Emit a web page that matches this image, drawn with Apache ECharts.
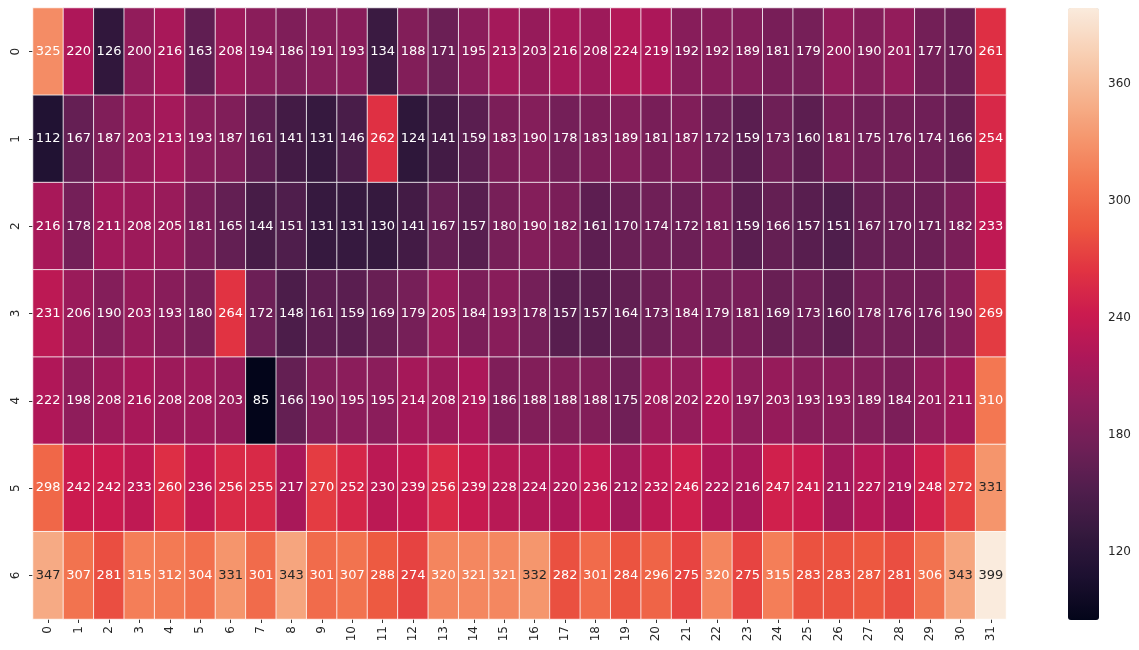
<!DOCTYPE html>
<html>
<head>
<meta charset="utf-8">
<style>
  html, body { margin: 0; padding: 0; background: #fff; }
  #chart { width: 1139px; height: 650px; }
</style>
<script src="https://cdn.jsdelivr.net/npm/echarts@6/dist/echarts.min.js"></script>
</head>
<body>
<div id="chart"></div>
<script>
// Row and column labels
const rowLabels = ['0', '1', '2', '3', '4', '5', '6'];
const colLabels = Array.from({ length: 32 }, (_, i) => String(i));

// Cell values, one array per row
const row0 = [325,220,126,200,216,163,208,194,186,191,193,134,188,171,195,213,203,216,208,224,219,192,192,189,181,179,200,190,201,177,170,261];
const row1 = [112,167,187,203,213,193,187,161,141,131,146,262,124,141,159,183,190,178,183,189,181,187,172,159,173,160,181,175,176,174,166,254];
const row2 = [216,178,211,208,205,181,165,144,151,131,131,130,141,167,157,180,190,182,161,170,174,172,181,159,166,157,151,167,170,171,182,233];
const row3 = [231,206,190,203,193,180,264,172,148,161,159,169,179,205,184,193,178,157,157,164,173,184,179,181,169,173,160,178,176,176,190,269];
const row4 = [222,198,208,216,208,208,203,85,166,190,195,195,214,208,219,186,188,188,188,175,208,202,220,197,203,193,193,189,184,201,211,310];
const row5 = [298,242,242,233,260,236,256,255,217,270,252,230,239,256,239,228,224,220,236,212,232,246,222,216,247,241,211,227,219,248,272,331];
const row6 = [347,307,281,315,312,304,331,301,343,301,307,288,274,320,321,321,332,282,301,284,296,275,320,275,315,283,283,287,281,306,343,399];
const rows = [row0, row1, row2, row3, row4, row5, row6];

// Colour bar ticks
const barTicks = [120, 180, 240, 300, 360];

const all = rows.flat();
const vMin = Math.min(...all);
const vMax = Math.max(...all);

// "rocket" palette, evenly spaced stops
const rocket = [
  '#03051a', '#1c1030', '#35193e', '#511e4d', '#701f57',
  '#8e1d5b', '#ad1759', '#cb1b4f', '#e13342', '#ed5840',
  '#f37651', '#f5966d', '#f6b48f', '#f8d0b5', '#faebdd'
];

// light cells get dark annotation text
const darkTextFrom = 328;

const data = [];
rows.forEach((r, y) => r.forEach((v, x) => {
  data.push({
    value: [x, y, v],
    label: { color: v >= darkTextFrom ? '#262626' : '#ffffff' }
  });
}));

const FONT = 'DejaVu Sans';
const chart = echarts.init(document.getElementById('chart'), null, { renderer: 'canvas' });

chart.setOption({
  animation: false,
  backgroundColor: '#ffffff',
  grid: [
    { left: 33, right: 133, top: 8, bottom: 31 },
    { left: 1068, width: 31, top: 8, bottom: 30 }
  ],
  xAxis: [
    {
      type: 'category', gridIndex: 0, data: colLabels, position: 'bottom',
      axisLine: { show: false },
      axisTick: { show: true, alignWithLabel: true, length: 4, lineStyle: { color: '#333' } },
      axisLabel: { rotate: 90, fontFamily: FONT, fontSize: 12, color: '#262626', margin: 7 },
      splitLine: { show: false }
    },
    {
      type: 'value', gridIndex: 1, show: false, min: 0, max: 1
    }
  ],
  yAxis: [
    {
      type: 'category', gridIndex: 0, data: rowLabels, inverse: true,
      axisLine: { show: false },
      axisTick: { show: true, alignWithLabel: true, length: 4, lineStyle: { color: '#333' } },
      axisLabel: { rotate: 90, fontFamily: FONT, fontSize: 12, color: '#262626', margin: 11 },
      splitLine: { show: false }
    },
    {
      type: 'value', gridIndex: 1, position: 'right', min: vMin, max: vMax,
      axisLine: { show: false },
      splitLine: { show: false },
      axisTick: { show: true, length: 4, customValues: barTicks, lineStyle: { color: '#333' } },
      axisLabel: { show: true, customValues: barTicks, fontFamily: FONT, fontSize: 12, color: '#262626', margin: 9 }
    }
  ],
  visualMap: {
    type: 'continuous',
    min: vMin, max: vMax,
    dimension: 2,
    seriesIndex: 0,
    calculable: false,
    orient: 'vertical',
    left: 1068, top: 8,
    itemWidth: 31, itemHeight: 612,
    padding: 0,
    text: null,
    showLabel: false,
    inRange: { color: rocket }
  },
  series: [
    {
      type: 'heatmap',
      xAxisIndex: 0, yAxisIndex: 0,
      data: data,
      itemStyle: { borderColor: '#ffffff', borderWidth: 0.8 },
      label: {
        show: true,
        fontFamily: FONT,
        fontSize: 13,
        formatter: p => String(p.value[2])
      },
      emphasis: { disabled: true }
    }
  ]
});
</script>
</body>
</html>
